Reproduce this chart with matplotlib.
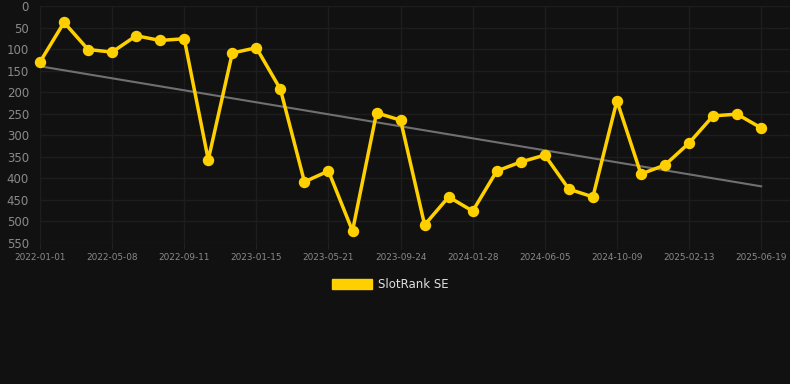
import numpy as np
import matplotlib
matplotlib.use("Agg")
import matplotlib.pyplot as plt
from matplotlib.patches import Patch

# rank per period (lower is better, axis inverted)
ranks = [130, 38, 101, 107, 69, 80, 76, 357, 109, 97, 193, 408, 383, 522, 248,
         265, 508, 443, 476, 383, 362, 346, 425, 443, 220, 390, 369, 318, 255, 251, 283]
tick_dates = ['2022-01-01', '2022-05-08', '2022-09-11', '2023-01-15', '2023-05-21',
              '2023-09-24', '2024-01-28', '2024-06-05', '2024-10-09', '2025-02-13', '2025-06-19']
y_ticks = [0, 50, 100, 150, 200, 250, 300, 350, 400, 450, 500, 550]
series_name = 'SlotRank SE'

bg = '#111111'
gold = '#ffd000'
label_col = '#8a8a8a'

x = np.arange(len(ranks))

fig = plt.figure(figsize=(7.9, 3.84), dpi=100, facecolor=bg)
ax = fig.add_axes([40 / 790, 1 - 243 / 384, 750 / 790, 237 / 384], facecolor=bg)

# trend line from a linear fit
k, b = np.polyfit(x, ranks, 1)
ax.plot(x, k * x + b, color='#707070', lw=1.5, zorder=2)

ax.plot(x, ranks, color=gold, lw=2.5, marker='o', ms=7.2, zorder=3, clip_on=False)

ax.set_ylim(550, 0)
ax.set_xlim(0, 31.2)
ax.set_yticks(y_ticks)
ax.set_xticks(x[::3])
ax.set_xticklabels(tick_dates)
ax.tick_params(axis='y', length=0, pad=8, labelsize=8.5, labelcolor=label_col)
ax.tick_params(axis='x', length=4, color='#222222', pad=3, labelsize=6.4, labelcolor=label_col)
ax.grid(True, color='#1d1d1d', lw=1)
for s in ax.spines.values():
    s.set_visible(False)

fig.legend(handles=[Patch(facecolor=gold, edgecolor=gold, label=series_name)],
           loc='center', bbox_to_anchor=(0.494, 0.26), frameon=False,
           handlelength=3.4, handleheight=0.95, handletextpad=0.55,
           labelcolor='#e0e0e0', fontsize=8.5)

fig.savefig('out.png', dpi=100, facecolor=bg)
